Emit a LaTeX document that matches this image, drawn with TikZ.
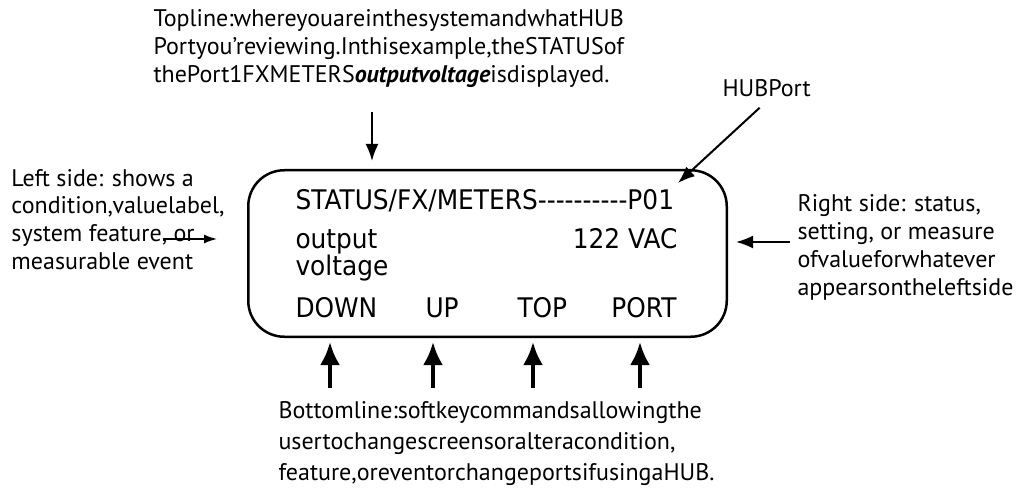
\documentclass[tikz,border=0pt]{standalone}
\usepackage{fontspec}
\setmainfont{PT Sans}
\newfontfamily\lcdfont[FakeStretch=0.92]{DejaVu Sans}
\usetikzlibrary{arrows.meta}
\tikzset{
every picture/.style={
line width=1pt
}}

\begin{document}
\begin{tikzpicture}[x=1pt, y=-1pt,
note/.style = {anchor=base west, inner sep=0pt, font=\fontsize{24}{28}\selectfont},
lcd/.style = {anchor=base west, inner sep=0pt, font=\lcdfont\fontsize{27}{30}\selectfont},
screen/.style = {rectangle, draw=black, line width=2.5pt, rounded corners=36pt,
  minimum width=478.5pt, minimum height=166.5pt},
pointer/.style = {-{Latex[length=17pt,width=13pt]}, line width=2pt},
strike/.style = {-{Latex[length=13pt,width=9pt]}, line width=1.5pt},
keyarrow/.style = {-{Latex[length=23pt,width=20pt]}, line width=4pt}]

\useasboundingbox (0,0) rectangle (1018,489);

\node[screen] (screen) at (487.5,253.5) {};

% the display
\node[lcd] (row1) at (295,210) {STATUS/FX/METERS-{}-{}-{}-{}-{}-{}-{}-{}-{}-P01};
\node[lcd] (label) at (295,249) {output};
\node[lcd, anchor=base east] (value) at (678,249) {122 VAC};
\node[lcd] (label2) at (295,276) {voltage};
\node[lcd] (keydown) at (295,317) {DOWN};
\node[lcd] (keyup) at (425,317) {UP};
\node[lcd] (keytop) at (517,317) {TOP};
\node[lcd, anchor=base east] (keyport) at (677,317) {PORT};

% notes
\node[note] (top1) at (153,27) {Topline:whereyouareinthesystemandwhatHUB};
\node[note] (top2) at (153,55) {Portyou’reviewing.Inthisexample,theSTATUSof};
\node[note] (top3) at (153,83) {thePort1FXMETERS\textbf{\textit{outputvoltage}}isdisplayed.};
\node[note] (hub) at (722,97) {HUBPort};

\node[note] (left1) at (11,187) {Left side: shows a};
\node[note] (left2) at (11,214) {condition,valuelabel,};
\node[note] (left3) at (11,242) {system feature, or};
\node[note] (left4) at (11,270) {measurable event};

\node[note] (right1) at (797,212) {Right side: status,};
\node[note] (right2) at (797,240) {setting, or measure};
\node[note] (right3) at (797,268) {ofvalueforwhatever};
\node[note] (right4) at (797,296) {appearsontheleftside};

\node[note] (bottom1) at (278,418) {Bottomline:softkeycommandsallowingthe};
\node[note] (bottom2) at (278,449) {usertochangescreensoralteracondition,};
\node[note] (bottom3) at (278,480) {feature,oreventorchangeportsifusingaHUB.};

\coordinate (toptail) at (372,112);
\coordinate (hubtip) at (678,183);
\coordinate (righttail) at (790,242);
\coordinate (lefttail) at (163,239);
\coordinate (lefttip) at (217,239);

\draw[pointer, shorten >=8pt] (toptail) -- (toptail |- screen.north);
\draw[pointer] ([xshift=-7pt, yshift=-10pt]hub.south) -- (hubtip);
\draw[pointer, shorten >=8pt] (righttail) -- (righttail -| screen.east);
\draw[strike] (lefttail) -- (lefttip);

\foreach \x in {330,433,533,640} {
  \coordinate (keytail) at (\x,388);
  \draw[keyarrow, shorten >=4pt] (keytail) -- (keytail |- screen.south);
}

\end{tikzpicture}
\end{document}
